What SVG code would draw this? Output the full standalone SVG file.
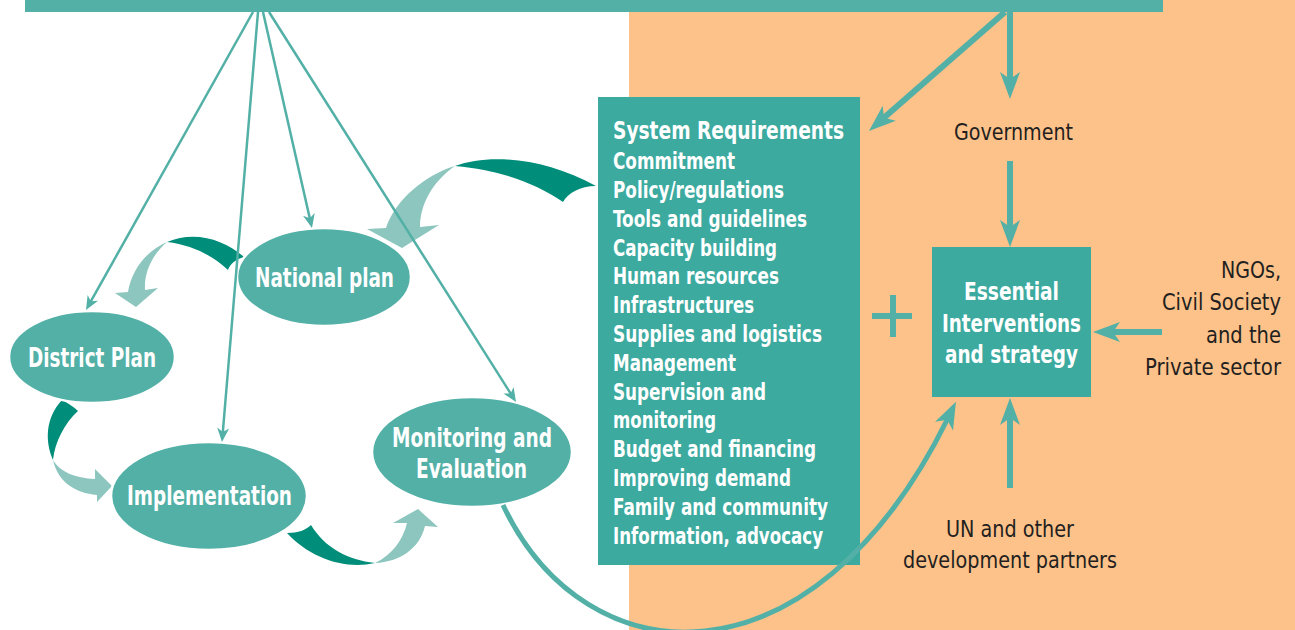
<svg xmlns="http://www.w3.org/2000/svg" width="1295" height="630" viewBox="0 0 1295 630">
<style>
.t{font-family:"Liberation Sans Narrow","DejaVu Sans Condensed","Liberation Sans",sans-serif;}
.w{fill:#ffffff;font-weight:bold;}
.d{fill:#231f20;}
.node{fill:#52b0a6;stroke:#ffffff;stroke-width:2.5;}
.box{fill:#3caa9f;}
.thin{fill:none;stroke:#52b0a6;stroke-width:2.5;}
.thick{fill:none;stroke:#52b0a6;stroke-width:6;}
.dark{fill:#008d7a;}
.light{fill:#8cc6be;}
</style>
<defs>
<marker id="ah" viewBox="-16 -8 18 16" refX="-9" refY="0" markerWidth="18" markerHeight="16" markerUnits="userSpaceOnUse" orient="auto">
<path d="M0,0 L-14,-6 L-10,0 L-14,6 Z" fill="#52b0a6"/>
</marker>
<marker id="ahb" viewBox="-30 -12 32 24" refX="-18" refY="0" markerWidth="32" markerHeight="24" markerUnits="userSpaceOnUse" orient="auto">
<path d="M0,0 L-27,-10 L-20,0 L-27,10 Z" fill="#52b0a6"/>
</marker>
</defs>
<rect x="629" y="0" width="666" height="630" fill="#fdc28a"/>
<rect x="25" y="0" width="1138" height="12" fill="#52b0a6"/>

<g id="ribbons">
<path class="dark" d="M455,166 C490,153 545,158 596,186 C580,186 568,193 563,202 C535,183 500,170 455,166 Z"/>
<path class="light" d="M455,166 C425,175 395,200 386,228 L367,229 L402,248 L439,225 L420,227 C420,205 432,182 455,166 Z"/>
<path class="dark" d="M167,242 C195,230 225,240 244,257 C236,259 230,264 228,270 C212,255 192,245 167,242 Z"/>
<path class="light" d="M167,242 C148,250 132,268 128,292 L115,293 L136,307 L158,288 L145,290 C144,272 152,255 167,242 Z"/>
<path class="dark" d="M62,400 C68,403 74,407 78,411 C64,424 55,442 53,460 C45,442 45,418 62,400 Z"/>
<path class="light" d="M53,460 C60,472 75,478 95,479 L95,469 L112,486 L97,502 L97,495 C75,493 58,482 53,460 Z"/>
<path class="dark" d="M287,533 C298,533 306,530 311,525 C325,548 348,560 375,563 C345,570 310,558 287,533 Z"/>
<path class="light" d="M375,563 C392,555 403,540 407,523 L393,523 L418,509 L438,527 L425,526 C420,548 400,562 375,563 Z"/>
</g>

<g id="national-plan">
<ellipse class="node" cx="324" cy="277" rx="87" ry="49"/>
<text class="t w" x="324.5" y="287" font-size="26" text-anchor="middle" textLength="139" lengthAdjust="spacingAndGlyphs">National plan</text>
</g>
<g id="district-plan">
<ellipse class="node" cx="92" cy="357" rx="83" ry="46"/>
<text class="t w" x="92" y="367" font-size="26" text-anchor="middle" textLength="128" lengthAdjust="spacingAndGlyphs">District Plan</text>
</g>
<g id="implementation">
<ellipse class="node" cx="209" cy="496" rx="98" ry="54"/>
<text class="t w" x="209.5" y="505" font-size="26" text-anchor="middle" textLength="165" lengthAdjust="spacingAndGlyphs">Implementation</text>
</g>
<g id="monitoring-evaluation">
<ellipse class="node" cx="472" cy="452" rx="100" ry="55"/>
<text class="t w" x="472" y="447" font-size="26" text-anchor="middle" textLength="160" lengthAdjust="spacingAndGlyphs">Monitoring and</text>
<text class="t w" x="471.5" y="478" font-size="26" text-anchor="middle" textLength="111" lengthAdjust="spacingAndGlyphs">Evaluation</text>
</g>

<g id="system-requirements">
<rect class="box" x="598" y="97" width="262" height="468"/>
<text class="t w" x="613" y="139" font-size="24" textLength="231" lengthAdjust="spacingAndGlyphs">System Requirements</text>
<text class="t w" x="613" y="169" font-size="23" textLength="122" lengthAdjust="spacingAndGlyphs">Commitment</text>
<text class="t w" x="613" y="198" font-size="23" textLength="171" lengthAdjust="spacingAndGlyphs">Policy/regulations</text>
<text class="t w" x="613" y="227" font-size="23" textLength="194" lengthAdjust="spacingAndGlyphs">Tools and guidelines</text>
<text class="t w" x="613" y="256" font-size="23" textLength="164" lengthAdjust="spacingAndGlyphs">Capacity building</text>
<text class="t w" x="613" y="284" font-size="23" textLength="166" lengthAdjust="spacingAndGlyphs">Human resources</text>
<text class="t w" x="613" y="313" font-size="23" textLength="141" lengthAdjust="spacingAndGlyphs">Infrastructures</text>
<text class="t w" x="613" y="342" font-size="23" textLength="209" lengthAdjust="spacingAndGlyphs">Supplies and logistics</text>
<text class="t w" x="613" y="371" font-size="23" textLength="123" lengthAdjust="spacingAndGlyphs">Management</text>
<text class="t w" x="613" y="400" font-size="23" textLength="153" lengthAdjust="spacingAndGlyphs">Supervision and</text>
<text class="t w" x="613" y="428" font-size="23" textLength="103" lengthAdjust="spacingAndGlyphs">monitoring</text>
<text class="t w" x="613" y="457" font-size="23" textLength="203" lengthAdjust="spacingAndGlyphs">Budget and financing</text>
<text class="t w" x="613" y="486" font-size="23" textLength="178" lengthAdjust="spacingAndGlyphs">Improving demand</text>
<text class="t w" x="613" y="515" font-size="23" textLength="215" lengthAdjust="spacingAndGlyphs">Family and community</text>
<text class="t w" x="613" y="544" font-size="23" textLength="210" lengthAdjust="spacingAndGlyphs">Information, advocacy</text>
</g>

<g id="essential-interventions">
<rect class="box" x="932" y="247" width="159" height="150"/>
<text class="t w" x="1011.5" y="300" font-size="25" text-anchor="middle" textLength="95" lengthAdjust="spacingAndGlyphs">Essential</text>
<text class="t w" x="1011.5" y="332" font-size="25" text-anchor="middle" textLength="139" lengthAdjust="spacingAndGlyphs">Interventions</text>
<text class="t w" x="1011.5" y="363" font-size="25" text-anchor="middle" textLength="133" lengthAdjust="spacingAndGlyphs">and strategy</text>
</g>

<g id="plus">
<path d="M893,295 V337 M872,316 H912" fill="none" stroke="#52b0a6" stroke-width="6"/>
</g>

<g id="government">
<text class="t d" x="1013.5" y="140" font-size="23" text-anchor="middle" textLength="119" lengthAdjust="spacingAndGlyphs">Government</text>
</g>
<g id="ngos">
<text class="t d" x="1281" y="278" font-size="23" text-anchor="end" textLength="60" lengthAdjust="spacingAndGlyphs">NGOs,</text>
<text class="t d" x="1281" y="310" font-size="23" text-anchor="end" textLength="119" lengthAdjust="spacingAndGlyphs">Civil Society</text>
<text class="t d" x="1281" y="343" font-size="23" text-anchor="end" textLength="75" lengthAdjust="spacingAndGlyphs">and the</text>
<text class="t d" x="1281" y="375" font-size="23" text-anchor="end" textLength="136" lengthAdjust="spacingAndGlyphs">Private sector</text>
</g>
<g id="un-partners">
<text class="t d" x="1010" y="537" font-size="23" text-anchor="middle" textLength="128" lengthAdjust="spacingAndGlyphs">UN and other</text>
<text class="t d" x="1010" y="568" font-size="23" text-anchor="middle" textLength="214" lengthAdjust="spacingAndGlyphs">development partners</text>
</g>

<g id="connectors">
<line class="thin" x1="253" y1="12" x2="90.4" y2="302.2" marker-end="url(#ah)"/>
<line class="thin" x1="258" y1="12" x2="222.75" y2="433" marker-end="url(#ah)"/>
<line class="thin" x1="263" y1="12" x2="310" y2="219.2" marker-end="url(#ah)"/>
<line class="thin" x1="269" y1="12" x2="511.2" y2="394.4" marker-end="url(#ah)"/>
<line class="thick" x1="1010" y1="12" x2="1010" y2="81" marker-end="url(#ahb)"/>
<line class="thick" x1="1005" y1="12" x2="882.5" y2="119.1" marker-end="url(#ahb)"/>
<line class="thick" x1="1010" y1="161" x2="1010" y2="229" marker-end="url(#ahb)"/>
<line class="thick" x1="1162" y1="332" x2="1111" y2="332" marker-end="url(#ahb)"/>
<line class="thick" x1="1010" y1="488" x2="1010" y2="416" marker-end="url(#ahb)"/>
<path d="M503,505 C585,680 812,695 948,418" fill="none" stroke="#52b0a6" stroke-width="5" marker-end="url(#ahb)"/>
</g>
</svg>
